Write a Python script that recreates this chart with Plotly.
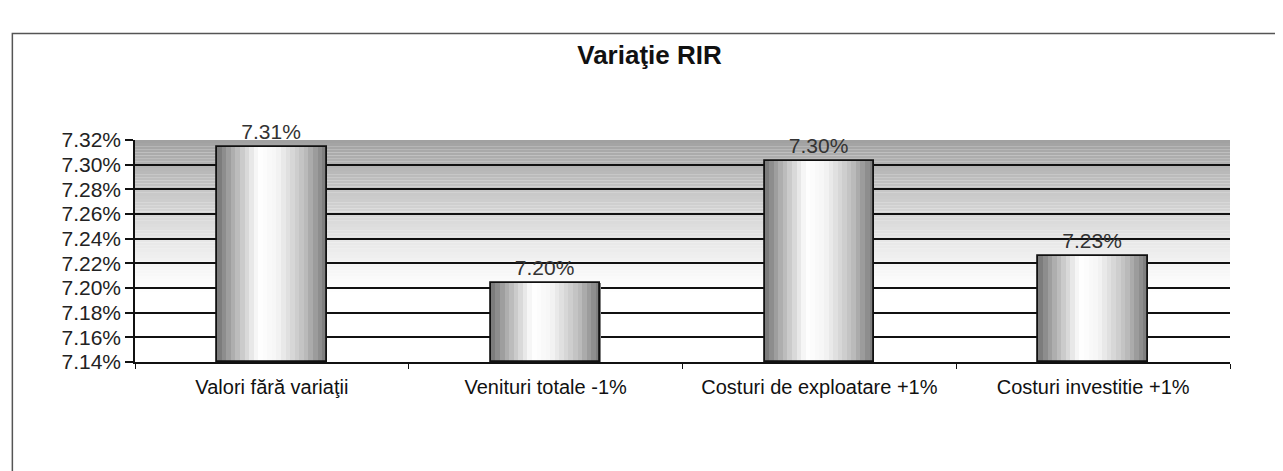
import plotly.graph_objects as go

categories = ["Valori fără variaţii", "Venituri totale -1%", "Costuri de exploatare +1%", "Costuri investitie +1%"]
rir_values = [7.314, 7.204, 7.303, 7.226]
tick_vals = [7.14, 7.16, 7.18, 7.20, 7.22, 7.24, 7.26, 7.28, 7.30, 7.32]
tick_text = ["7.14%", "7.16%", "7.18%", "7.20%", "7.22%", "7.24%", "7.26%", "7.28%", "7.30%", "7.32%"]
value_labels = [f"{v:.2f}%" for v in rir_values]

BAR_W = 0.4
N_SLICES = 24


def shade(t):
    # cylinder-like horizontal shading: dark edges, highlight left of centre
    pts = [(0.0, 115), (0.12, 165), (0.38, 255), (0.55, 245), (0.8, 190), (1.0, 120)]
    for (t0, c0), (t1, c1) in zip(pts, pts[1:]):
        if t0 <= t <= t1:
            c = c0 + (c1 - c0) * (t - t0) / (t1 - t0)
            c = int(round(c))
            return f"rgb({c},{c},{c})"
    return "rgb(128,128,128)"


fig = go.Figure()
sw = BAR_W / N_SLICES
for i in range(N_SLICES):
    t = (i + 0.5) / N_SLICES
    fig.add_trace(go.Bar(
        x=categories, y=[v - 7.14 for v in rir_values], base=7.14,
        width=sw * 1.05, offset=-BAR_W / 2 + i * sw,
        marker=dict(color=shade(t), line=dict(width=0)),
        hoverinfo="skip", showlegend=False,
    ))

# outline + labels
fig.add_trace(go.Bar(
    x=categories, y=[v - 7.14 for v in rir_values], base=7.14,
    width=BAR_W, offset=-BAR_W / 2,
    marker=dict(color="rgba(0,0,0,0)", line=dict(color="#111", width=1.8)),
    text=value_labels, textposition="outside",
    textfont=dict(family="Liberation Sans, Arial", size=21, color="#333"),
    cliponaxis=False, showlegend=False,
))

# background gradient of plot area (grey at top fading to white)
shapes = []
n_bg = 50
y_lo, y_hi = 0.3, 1.0
for i in range(n_bg):
    f0 = y_lo + (y_hi - y_lo) * i / n_bg
    f1 = y_lo + (y_hi - y_lo) * (i + 1) / n_bg
    tt = (i + 0.5) / n_bg
    c = int(round(255 - (255 - 160) * tt ** 1.3))
    shapes.append(dict(type="rect", xref="x domain", yref="y domain",
                       x0=0, x1=1, y0=f0, y1=f1, layer="below",
                       fillcolor=f"rgb({c},{c},{c})", line=dict(width=0)))
# outer chart frame
shapes.append(dict(type="rect", xref="paper", yref="paper",
                   x0=-0.112, x1=1.045, y0=-0.6, y1=1.48,
                   line=dict(color="#555", width=1.5), fillcolor="rgba(0,0,0,0)"))

fig.update_layout(
    width=1283, height=471,
    margin=dict(l=127, r=61, t=132, b=117),
    paper_bgcolor="white", plot_bgcolor="white",
    barmode="overlay", bargap=0,
    shapes=shapes,
    title=dict(text="<b>Variaţie RIR</b>", x=0.5, xanchor="center",
               y=1 - 47 / 471, yanchor="middle",
               font=dict(family="Liberation Sans, Arial", size=26, color="#111")),
    font=dict(family="Liberation Sans, Arial", color="#111"),
)
fig.update_yaxes(
    range=[7.14, 7.32], tickvals=tick_vals, ticktext=tick_text,
    showgrid=True, gridcolor="#111", gridwidth=1.5,
    showline=True, linecolor="#111", linewidth=1.5,
    ticks="outside", ticklen=8, tickcolor="#111", tickwidth=1.5,
    tickfont=dict(size=21, color="#222"), zeroline=False,
)
fig.update_xaxes(
    showline=True, linecolor="#111", linewidth=1.5,
    ticks="outside", ticklen=5, tickcolor="#111", tickson="boundaries",
    tickfont=dict(size=20, color="#111"), ticklabelstandoff=6,
    showgrid=False,
)
fig.write_html("out.html")
